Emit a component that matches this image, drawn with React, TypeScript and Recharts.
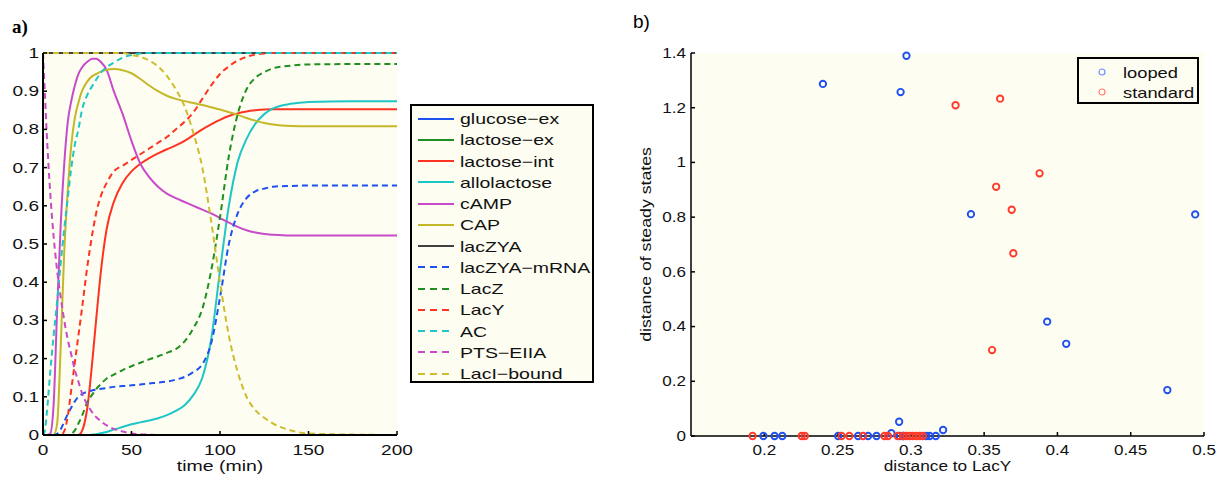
import React from "react";
import {
  LineChart,
  Line,
  XAxis,
  YAxis,
  CartesianGrid,
  ScatterChart,
  Scatter,
} from "recharts";

const FONT = "'Liberation Sans', Arial, Helvetica, sans-serif";
const BG = "#fdfdf1";

// ---- panel a) time course ----
const times = [0, 1, 2, 4, 6, 8, 10, 12, 14, 16, 18, 20, 22, 25, 28, 30, 33, 36, 40, 45, 50, 55, 60, 65, 70, 75, 80, 85, 90, 95, 100, 105, 110, 115, 120, 125, 130, 140, 150, 175, 200];

const glucoseEx = [0, 0, 0, 0, 0, 0, 0, 0, 0, 0, 0, 0, 0, 0, 0, 0, 0, 0, 0, 0, 0, 0, 0, 0, 0, 0, 0, 0, 0, 0, 0, 0, 0, 0, 0, 0, 0, 0, 0, 0, 0];
const lactoseEx = [0, 0, 0, 0, 0, 0, 0, 0, 0, 0, 0, 0, 0, 0, 0, 0, 0, 0, 0, 0, 0, 0, 0, 0, 0, 0, 0, 0, 0, 0, 0, 0, 0, 0, 0, 0, 0, 0, 0, 0, 0];
const lactoseInt = [0, 0, 0, 0, 0, 0, 0, 0, 0, 0, 0, 0, 0.01, 0.07, 0.2, 0.3, 0.44, 0.54, 0.61, 0.66, 0.69, 0.71, 0.725, 0.737, 0.748, 0.758, 0.77, 0.785, 0.8, 0.813, 0.825, 0.835, 0.842, 0.847, 0.85, 0.852, 0.853, 0.853, 0.853, 0.853, 0.853];
const allolactose = [0, 0, 0, 0, 0, 0, 0, 0, 0, 0, 0, 0, 0, 0, 0.001, 0.002, 0.005, 0.008, 0.014, 0.021, 0.028, 0.033, 0.038, 0.044, 0.052, 0.063, 0.078, 0.105, 0.15, 0.25, 0.43, 0.6, 0.715, 0.775, 0.815, 0.84, 0.855, 0.867, 0.872, 0.874, 0.874];
const cAMP = [0, 0, 0, 0.003, 0.08, 0.33, 0.55, 0.71, 0.82, 0.875, 0.915, 0.945, 0.962, 0.977, 0.985, 0.985, 0.975, 0.955, 0.9, 0.84, 0.77, 0.71, 0.675, 0.65, 0.632, 0.62, 0.61, 0.6, 0.59, 0.58, 0.568, 0.556, 0.545, 0.536, 0.53, 0.526, 0.524, 0.522, 0.522, 0.522, 0.522];
const CAP = [0, 0, 0, 0, 0, 0.03, 0.23, 0.48, 0.64, 0.76, 0.83, 0.87, 0.9, 0.925, 0.94, 0.945, 0.952, 0.956, 0.958, 0.955, 0.947, 0.932, 0.915, 0.9, 0.888, 0.88, 0.874, 0.869, 0.864, 0.858, 0.852, 0.845, 0.838, 0.83, 0.823, 0.817, 0.813, 0.809, 0.808, 0.808, 0.808];
const lacZYA = [1, 1, 1, 1, 1, 1, 1, 1, 1, 1, 1, 1, 1, 1, 1, 1, 1, 1, 1, 1, 1, 1, 1, 1, 1, 1, 1, 1, 1, 1, 1, 1, 1, 1, 1, 1, 1, 1, 1, 1, 1];
const lacZYAmRNA = [0, 0, 0, 0, 0, 0.003, 0.015, 0.035, 0.055, 0.072, 0.088, 0.1, 0.107, 0.113, 0.117, 0.119, 0.121, 0.123, 0.126, 0.128, 0.13, 0.132, 0.135, 0.137, 0.14, 0.145, 0.152, 0.165, 0.185, 0.24, 0.36, 0.5, 0.58, 0.62, 0.638, 0.645, 0.65, 0.652, 0.653, 0.653, 0.653];
const LacZ = [0, 0, 0, 0, 0, 0, 0, 0, 0, 0.003, 0.012, 0.03, 0.05, 0.085, 0.107, 0.12, 0.135, 0.148, 0.158, 0.17, 0.18, 0.189, 0.198, 0.206, 0.215, 0.225, 0.245, 0.28, 0.33, 0.43, 0.57, 0.73, 0.84, 0.905, 0.935, 0.95, 0.96, 0.967, 0.97, 0.971, 0.971];
const LacY = [0, 0, 0, 0, 0, 0, 0, 0.01, 0.05, 0.12, 0.19, 0.26, 0.33, 0.44, 0.53, 0.58, 0.63, 0.66, 0.69, 0.705, 0.72, 0.735, 0.75, 0.765, 0.78, 0.8, 0.82, 0.845, 0.88, 0.915, 0.945, 0.965, 0.98, 0.99, 0.996, 0.999, 1, 1, 1, 1, 1];
const AC = [0, 0.01, 0.05, 0.16, 0.26, 0.35, 0.45, 0.54, 0.62, 0.7, 0.76, 0.8, 0.85, 0.89, 0.915, 0.93, 0.95, 0.963, 0.975, 0.988, 0.995, 0.999, 1, 1, 1, 1, 1, 1, 1, 1, 1, 1, 1, 1, 1, 1, 1, 1, 1, 1, 1];
const PTSEIIA = [1, 0.9, 0.8, 0.64, 0.52, 0.43, 0.36, 0.3, 0.25, 0.21, 0.17, 0.14, 0.11, 0.08, 0.058, 0.047, 0.035, 0.025, 0.016, 0.009, 0.004, 0.002, 0.001, 0, 0, 0, 0, 0, 0, 0, 0, 0, 0, 0, 0, 0, 0, 0, 0, 0, 0];
const LacIbound = [1, 1, 1, 1, 1, 1, 1, 1, 1, 1, 1, 1, 1, 1, 1, 1, 1, 1, 1, 1, 0.995, 0.99, 0.98, 0.965, 0.94, 0.905, 0.86, 0.79, 0.7, 0.56, 0.4, 0.26, 0.165, 0.1, 0.065, 0.045, 0.03, 0.012, 0.004, 0.001, 0];

const timeTicks = [0, 50, 100, 150, 200];
const levelTicks = [0, 0.1, 0.2, 0.3, 0.4, 0.5, 0.6, 0.7, 0.8, 0.9, 1];

// ---- panel b) scatter ----
const loopedX = [0.297, 0.24, 0.293, 0.341, 0.494, 0.393, 0.406, 0.475, 0.292, 0.322, 0.1994, 0.207, 0.2123, 0.2504, 0.264, 0.2708, 0.2766, 0.2867, 0.2924, 0.295, 0.3105, 0.3128, 0.317];
const loopedY = [1.39, 1.287, 1.257, 0.811, 0.81, 0.418, 0.337, 0.168, 0.052, 0.022, 0, 0, 0, 0, 0, 0, 0, 0.01, 0, 0, 0, 0, 0];
const standardX = [0.3305, 0.3609, 0.3878, 0.3582, 0.3688, 0.3699, 0.3554, 0.192, 0.2255, 0.2277, 0.2527, 0.258, 0.2674, 0.282, 0.2844, 0.291, 0.2946, 0.297, 0.2992, 0.3014, 0.3037, 0.306, 0.3082];
const standardY = [1.209, 1.233, 0.96, 0.911, 0.827, 0.668, 0.314, 0, 0, 0, 0, 0, 0, 0, 0, 0, 0, 0, 0, 0, 0, 0, 0];

const distTicks = [0.2, 0.25, 0.3, 0.35, 0.4, 0.45, 0.5];
const steadyTicks = [0, 0.2, 0.4, 0.6, 0.8, 1, 1.2, 1.4];

const series = [
  { key: "glucoseEx", name: "glucose−ex", values: glucoseEx, color: "#1f50f0", dashed: false },
  { key: "lactoseEx", name: "lactose−ex", values: lactoseEx, color: "#1f8f1f", dashed: false },
  { key: "lactoseInt", name: "lactose−int", values: lactoseInt, color: "#ff3322", dashed: false },
  { key: "allolactose", name: "allolactose", values: allolactose, color: "#1fc6c6", dashed: false },
  { key: "cAMP", name: "cAMP", values: cAMP, color: "#c74bc9", dashed: false },
  { key: "CAP", name: "CAP", values: CAP, color: "#c4b828", dashed: false },
  { key: "lacZYA", name: "lacZYA", values: lacZYA, color: "#404040", dashed: false },
  { key: "lacZYAmRNA", name: "lacZYA−mRNA", values: lacZYAmRNA, color: "#1f50f0", dashed: true },
  { key: "LacZ", name: "LacZ", values: LacZ, color: "#1f8f1f", dashed: true },
  { key: "LacY", name: "LacY", values: LacY, color: "#ff3322", dashed: true },
  { key: "AC", name: "AC", values: AC, color: "#1fc6c6", dashed: true },
  { key: "PTSEIIA", name: "PTS−EIIA", values: PTSEIIA, color: "#c74bc9", dashed: true },
  { key: "LacIbound", name: "LacI−bound", values: LacIbound, color: "#cdbd2e", dashed: true },
];

const lineData = times.map((t, i) => {
  const row: Record<string, number> = { t };
  series.forEach((s) => {
    row[s.key] = s.values[i];
  });
  return row;
});

const looped = loopedX.map((x, i) => ({ x, y: loopedY[i] }));
const standard = standardX.map((x, i) => ({ x, y: standardY[i] }));

// the figure's text is stretched sideways, so labels are scaled in x
const StretchTick = (props: any) => {
  const { x, y, payload, textAnchor, sx, dy } = props;
  return (
    <g transform={`translate(${x},${y})`}>
      <text
        transform={`scale(${sx},1)`}
        textAnchor={textAnchor}
        dy={dy}
        fontSize={14}
        fontFamily={FONT}
        fill="#111"
      >
        {payload.value}
      </text>
    </g>
  );
};

const xTitle = (text: string, sx: number, offset: number) => (props: any) => {
  const { x, y, width } = props.viewBox;
  return (
    <g transform={`translate(${x + width / 2},${y + offset})`}>
      <text transform={`scale(${sx},1)`} textAnchor="middle" fontSize={15} fontFamily={FONT} fill="#111">
        {text}
      </text>
    </g>
  );
};

const yTitle = (text: string, sx: number, offset: number) => (props: any) => {
  const { x, y, height } = props.viewBox;
  return (
    <g transform={`translate(${x + offset},${y + height / 2}) rotate(-90)`}>
      <text transform={`scale(${sx},1)`} textAnchor="middle" fontSize={15} fontFamily={FONT} fill="#111">
        {text}
      </text>
    </g>
  );
};

const ring = (color: string) => (p: any) =>
  <circle cx={p.cx} cy={p.cy} r={3.2} fill="none" stroke={color} strokeWidth={1.9} />;

const axisStroke = { stroke: "#000", strokeWidth: 2 };
const tickStroke = { stroke: "#000", strokeWidth: 1.5 };

const App = () => {
  return (
    <div style={{ position: "absolute", left: 0, top: 0, width: 1223, height: 477, background: "#fff", fontFamily: FONT }}>
      <svg style={{ position: "absolute", left: 0, top: 0 }} width={1223} height={477}>
        <text x={12} y={33} fontSize={19} fontWeight="bold" fontFamily="'Liberation Serif', 'Times New Roman', serif" fill="#000">
          a)
        </text>
        <text x={633} y={28} fontSize={19} fontFamily={FONT} fill="#000">
          b)
        </text>
      </svg>

      <div style={{ position: "absolute", left: 0, top: 0 }}>
        <LineChart width={414} height={477} data={lineData} margin={{ top: 53, right: 17, bottom: 0, left: 0 }}>
          <CartesianGrid horizontal={false} vertical={false} fill={BG} stroke="none" />
          <XAxis
            dataKey="t"
            type="number"
            domain={[0, 200]}
            ticks={timeTicks}
            interval={0}
            height={42}
            tickSize={-4}
            tickMargin={24}
            axisLine={axisStroke}
            tickLine={tickStroke}
            tick={(p: any) => <StretchTick {...p} sx={1.36} dy={0} />}
            label={{ content: xTitle("time (min)", 1.3, 36) }}
          />
          <XAxis
            xAxisId="top"
            orientation="top"
            dataKey="t"
            type="number"
            domain={[0, 200]}
            ticks={timeTicks}
            interval={0}
            height={0}
            tickSize={-4}
            tick={false}
            axisLine={axisStroke}
            tickLine={tickStroke}
          />
          <YAxis
            type="number"
            domain={[0, 1]}
            ticks={levelTicks}
            interval={0}
            width={43}
            tickSize={-4}
            tickMargin={8}
            axisLine={axisStroke}
            tickLine={tickStroke}
            tick={(p: any) => <StretchTick {...p} sx={1.36} dy="0.35em" />}
          />
          <YAxis
            yAxisId="right"
            orientation="right"
            type="number"
            domain={[0, 1]}
            ticks={levelTicks}
            interval={0}
            width={0}
            tickSize={-4}
            tick={false}
            axisLine={axisStroke}
            tickLine={tickStroke}
          />
          {series.map((s) => (
            <Line
              key={s.key}
              type="monotone"
              dataKey={s.key}
              name={s.name}
              stroke={s.color}
              strokeWidth={2}
              strokeDasharray={s.dashed ? "6 4" : undefined}
              dot={false}
              activeDot={false}
              isAnimationActive={false}
            />
          ))}
        </LineChart>
      </div>

      <div
        style={{
          position: "absolute",
          left: 410,
          top: 104,
          width: 180,
          height: 273,
          paddingTop: 2,
          border: "2px solid #000",
          background: BG,
        }}
      >
        {series.map((s) => (
          <div key={s.key} style={{ display: "flex", alignItems: "center", height: 21.25 }}>
            <svg width={36} height={4} style={{ marginLeft: 6, flex: "none" }}>
              <line x1={0} y1={2} x2={36} y2={2} stroke={s.color} strokeWidth={2} strokeDasharray={s.dashed ? "7 5" : undefined} />
            </svg>
            <span
              style={{
                marginLeft: 6,
                fontSize: 15,
                lineHeight: "15px",
                whiteSpace: "nowrap",
                display: "inline-block",
                transform: "scaleX(1.3)",
                transformOrigin: "left center",
                color: "#111",
              }}
            >
              {s.name}
            </span>
          </div>
        ))}
      </div>

      <div style={{ position: "absolute", left: 630, top: 0 }}>
        <ScatterChart width={593} height={477} margin={{ top: 53, right: 19, bottom: 0, left: 0 }}>
          <CartesianGrid horizontal={false} vertical={false} fill={BG} stroke="none" />
          <XAxis
            type="number"
            dataKey="x"
            domain={[0.15, 0.5]}
            ticks={distTicks}
            interval={0}
            height={41}
            tickSize={-4}
            tickMargin={23}
            axisLine={{ stroke: "#000", strokeWidth: 1.5 }}
            tickLine={tickStroke}
            tick={(p: any) => <StretchTick {...p} sx={1.22} dy={0} />}
            label={{ content: xTitle("distance to LacY", 1.15, 35) }}
          />
          <YAxis
            type="number"
            dataKey="y"
            domain={[0, 1.4]}
            ticks={steadyTicks}
            interval={0}
            width={61}
            tickSize={-4}
            tickMargin={9}
            axisLine={{ stroke: "#000", strokeWidth: 1.5 }}
            tickLine={tickStroke}
            tick={(p: any) => <StretchTick {...p} sx={1.22} dy="0.35em" />}
            label={{ content: yTitle("distance of steady states", 1.18, 21) }}
          />
          <Scatter name="looped" data={looped} shape={ring("#1f50f0")} isAnimationActive={false} />
          <Scatter name="standard" data={standard} shape={ring("#ff3a2a")} isAnimationActive={false} />
        </ScatterChart>
      </div>

      <div
        style={{
          position: "absolute",
          left: 1077,
          top: 57,
          width: 118,
          height: 40,
          paddingTop: 3,
          border: "2px solid #000",
          background: BG,
        }}
      >
        {[
          { name: "looped", color: "#6f8fff" },
          { name: "standard", color: "#ff8070" },
        ].map((e) => (
          <div key={e.name} style={{ display: "flex", alignItems: "center", height: 20 }}>
            <svg width={10} height={10} style={{ marginLeft: 18, flex: "none" }}>
              <circle cx={5} cy={5} r={3} fill="none" stroke={e.color} strokeWidth={1.2} />
            </svg>
            <span
              style={{
                marginLeft: 16,
                fontSize: 15,
                lineHeight: "15px",
                whiteSpace: "nowrap",
                display: "inline-block",
                transform: "scaleX(1.22)",
                transformOrigin: "left center",
                color: "#111",
              }}
            >
              {e.name}
            </span>
          </div>
        ))}
      </div>
    </div>
  );
};

export default App;
